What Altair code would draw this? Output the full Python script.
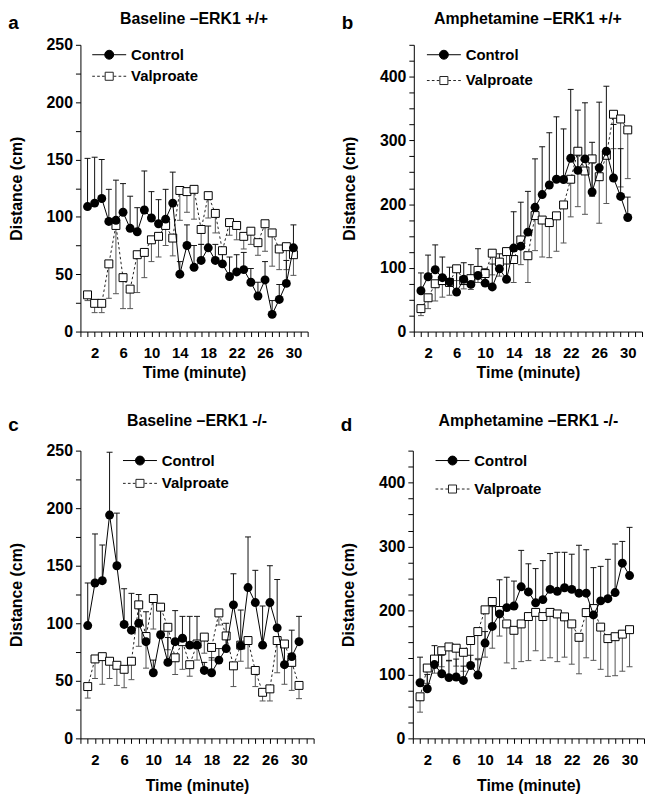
import altair as alt
import pandas as pd

FONT = "Liberation Sans"
minutes = list(range(1, 31))

# ---- Panel a: Baseline -ERK1 +/+ ----
a_ctrl = [109, 112, 116, 96, 97, 104, 90, 87, 106, 99, 94, 98, 112, 50, 75,
          56, 62, 73, 62, 59, 48, 52, 54, 43, 31, 45, 15, 28, 42, 73]
a_ctrl_hi = [151, 152, 150, 124, 132, 129, 118, 108, 140, 122, 115, 124, 139, 61, 93,
             75, 76, 92, 76, 72, 65, 67, 69, 55, 43, 61, 27, 41, 62, 93]
a_valp = [32, 24.6, 24.6, 59, 92.5, 47, 37, 67, 69, 80, 83, 92.5, 81.5, 123, 122,
          124, 89, 118.5, 103, 70.5, 95, 92.5, 83, 87.5, 77.5, 94, 86, 72, 74, 67]
a_valp_lo = [27, 16.5, 16.5, 29, 33, 20, 20, 34, 47, 61, 65, 75, 66, 97, 104,
             98, 76, 99, 86, 61, 84, 80, 72, 76, 66.5, 70, 57, 54, 54, 49]

# ---- Panel b: Amphetamine -ERK1 +/+ ----
b_ctrl = [64, 86, 97, 84.5, 78, 62, 82, 74, 88, 76, 70, 98.5, 82, 131, 134,
          156, 195, 215, 230, 239, 238.6, 272, 253, 271, 219, 257, 283, 241, 212, 179]
b_ctrl_hi = [92, 120, 136, 117, 101, 96, 108, 105, 130, 98.5, 106, 122, 106, 188, 203,
             220, 271, 290, 312, 337, 318, 380, 347.5, 359, 297, 360, 385, 325, 287, 211]
b_valp = [36, 53, 75, 80, 77, 98.5, 80, 83, 96, 91, 123, 109, 125.5, 113, 143.7,
          119, 182, 175, 171, 181.6, 198.7, 239, 283, 252, 271, 243, 276.6, 341, 333.6, 316.5]
b_valp_lo = [25, 36, 48, 54, 57, 80, 67, 66, 77, 73, 89, 87, 86, 77, 105,
             77, 127, 117, 116, 126, 139, 180, 196, 184, 212, 170, 201, 287, 227, 240]

# ---- Panel c: Baseline -ERK1 -/- ----
c_ctrl = [98, 135, 137, 194, 150, 99, 94, 100, 84, 57, 90, 66, 84, 87, 81,
          81, 59, 57, 68, 78, 116, 80.5, 131, 118, 81, 118, 96, 64, 71, 84]
c_ctrl_hi = [135, 177.6, 168, 248.6, 195.7, 130, 126, 125, 110, 68, 117, 87.6, 111, 106, 106,
             106, 66, 70, 78, 100, 143, 111.5, 175, 146, 115, 150, 138, 85, 94, 106]
c_valp = [45, 69, 71, 67, 63.5, 60, 67, 116, 88.5, 121.5, 114, 96.5, 70, 84, 64,
          82, 88, 79, 109, 89, 63, 81, 85, 59, 40, 43, 85, 82, 66, 46]
c_valp_lo = [35, 52, 47, 52, 46, 44, 51, 80, 61, 95, 93, 77, 55.5, 60, 54,
             68, 74, 68, 98.5, 75.6, 45, 67, 61, 45, 32.5, 32.5, 57, 47, 41.7, 34.5]

# ---- Panel d: Amphetamine -ERK1 -/- ----
d_ctrl = [87, 77.6, 115.4, 101, 95, 96, 90.6, 114, 99, 149, 175, 194.6, 204.5, 207, 237,
          229, 212, 217, 233, 230, 235.5, 233, 227, 227, 193, 215, 218.4, 228, 274, 254.6]
d_ctrl_hi = [127, 100, 145, 130, 122, 124, 113, 130, 123, 167, 206, 248, 252, 246, 294,
             273, 265.5, 278, 289, 291, 291, 288, 302, 295, 267, 269, 280, 304, 308, 330]
d_valp = [65, 110, 124, 137, 143, 141, 134.6, 153, 167, 201, 214, 200, 179, 169, 179,
          190.5, 197, 190.5, 197, 194.6, 190, 179, 158, 196.7, 203, 174, 156, 159, 163, 170]
d_valp_lo = [41, 86, 102, 112, 121, 113, 105, 112, 125, 127, 141, 160, 118, 109, 120,
             121.6, 137, 122, 126, 120, 127, 116, 101, 126, 122, 108, 97, 98, 105, 112]

series_names = ["Control", "Valproate"]

# legend symbols: line + marker drawn as custom symbol paths
PATH_CTRL = "M-3.8,0L3.8,0M-1,0A1,1,0,1,0,1,0A1,1,0,1,0,-1,0Z"
PATH_VALP = ("M-3.8,0L-3.2,0M-2.7,0L-2.1,0M-1.6,0L-1.0,0"
             "M1.0,0L1.6,0M2.1,0L2.7,0M3.2,0L3.8,0"
             "M-0.9,-0.9L0.9,-0.9L0.9,0.9L-0.9,0.9Z")


def make_df(ctrl, ctrl_end, valp, valp_end):
    rows = []
    for i, m in enumerate(minutes):
        rows.append(dict(t=m, series="Control", mean=ctrl[i], end=ctrl_end[i]))
    for i, m in enumerate(minutes):
        rows.append(dict(t=m, series="Valproate", mean=valp[i], end=valp_end[i]))
    return pd.DataFrame(rows)


def panel(df, title, letter, ymax, label_step, width, height, legend_x, row_pad,
          xlab_pad, xtitle_pad, title_offset):
    xscale = alt.Scale(domain=[0, 32], nice=False, zero=False)
    yscale = alt.Scale(domain=[0, ymax], nice=False)
    xaxis = alt.Axis(
        values=list(range(0, 33)),
        labelExpr="datum.value >= 2 && datum.value <= 30 && (datum.value - 2) % 4 == 0 ? datum.label : ''",
        title="Time (minute)", labelOverlap=False, labelFlush=False, grid=False,
        labelPadding=xlab_pad, titlePadding=xtitle_pad,
    )
    yaxis = alt.Axis(
        values=list(range(0, ymax + 1, 25)),
        labelExpr=f"datum.value % {label_step} == 0 ? datum.label : ''",
        title="Distance (cm)", labelOverlap=False, labelFlush=False, grid=False,
    )
    X = alt.X("t:Q", scale=xscale, axis=xaxis)
    base = alt.Chart(df)
    ctrl = base.transform_filter(alt.datum.series == "Control")
    valp = base.transform_filter(alt.datum.series == "Valproate")

    def bars(src, color):
        rule = src.mark_rule(color=color, strokeWidth=1).encode(
            x=X, y=alt.Y("mean:Q", scale=yscale, axis=yaxis), y2="end:Q")
        cap = src.mark_tick(orient="horizontal", size=6, thickness=1, color=color, opacity=1).encode(
            x=X, y=alt.Y("end:Q", scale=yscale, axis=yaxis))
        return rule, cap

    v_rule, v_cap = bars(valp, "#555555")
    c_rule, c_cap = bars(ctrl, "#111111")
    Y = alt.Y("mean:Q", scale=yscale, axis=yaxis)

    v_line = valp.mark_line(color="#222222", strokeWidth=1, strokeDash=[2.5, 2.5]).encode(x=X, y=Y)
    c_line = ctrl.mark_line(color="black", strokeWidth=1).encode(x=X, y=Y)
    v_pts = valp.mark_point(shape="square", filled=True, fill="white", stroke="black",
                            strokeWidth=1, size=64, opacity=1).encode(x=X, y=Y)
    c_pts = ctrl.mark_point(shape="circle", filled=True, color="black", size=81,
                            opacity=1).encode(x=X, y=Y)

    leg = alt.Legend(
        orient="none", legendX=legend_x, legendY=2.5, title=None,
        labelFont=FONT, labelFontSize=15, labelFontWeight="bold", labelColor="black",
        symbolSize=81, symbolStrokeWidth=1,
        labelOffset=14.5, rowPadding=row_pad, padding=0,
    )
    legend_layer = base.transform_filter("false").mark_point(
        filled=True, size=81, strokeWidth=1, opacity=1
    ).encode(
        x=X, y=Y,
        shape=alt.Shape("series:N", scale=alt.Scale(domain=series_names, range=[PATH_CTRL, PATH_VALP]), legend=leg),
        fill=alt.Fill("series:N", scale=alt.Scale(domain=series_names, range=["black", "white"]), legend=leg),
        stroke=alt.Stroke("series:N", scale=alt.Scale(domain=series_names, range=["black", "#222222"]), legend=leg),
    )

    layered = alt.layer(
        v_rule, v_cap, c_rule, c_cap, v_line, v_pts, c_line, c_pts, legend_layer
    ).properties(
        width=width, height=height,
        title=alt.Title(title, anchor="middle", frame="group", fontSize=16,
                        fontWeight="bold", font=FONT, color="black", offset=title_offset),
    )
    return alt.hconcat(layered).properties(
        title=alt.Title(letter, anchor="start", fontSize=19, fontWeight="bold",
                        font=FONT, color="black", offset=-22)
    )


pa = panel(make_df(a_ctrl, a_ctrl_hi, a_valp, a_valp_lo), "Baseline \u2013ERK1 +/+", "a",
           250, 50, 229, 289, 21.5, 5.7, 9.5, 4, 10)
pb = panel(make_df(b_ctrl, b_ctrl_hi, b_valp, b_valp_lo), "Amphetamine \u2013ERK1 +/+", "b",
           450, 100, 230, 289, 22.8, 10, 9.5, 4, 10)
pc = panel(make_df(c_ctrl, c_ctrl_hi, c_valp, c_valp_lo), "Baseline \u2013ERK1 -/-", "c",
           250, 50, 235, 290, 52.5, 7, 9, 11, 14)
pd_ = panel(make_df(d_ctrl, d_ctrl_hi, d_valp, d_valp_lo), "Amphetamine \u2013ERK1 -/-", "d",
            450, 100, 233, 290, 32.5, 12.7, 9, 11, 14)

res = dict(x="independent", y="independent", shape="independent", fill="independent",
           stroke="independent")
row1 = alt.hconcat(pa, pb, spacing=33).resolve_scale(**res).resolve_legend(
    shape="independent", fill="independent", stroke="independent")
row2 = alt.hconcat(pc, pd_, spacing=26).resolve_scale(**res).resolve_legend(
    shape="independent", fill="independent", stroke="independent")

chart = alt.vconcat(row1, row2, spacing=32).resolve_scale(**res).resolve_legend(
    shape="independent", fill="independent", stroke="independent"
).properties(padding=0).configure_view(
    stroke=None
).configure_axis(
    labelFont=FONT, labelFontSize=15, labelFontWeight="bold", labelColor="black",
    titleFont=FONT, titleFontSize=16, titleFontWeight="bold", titleColor="black",
    tickSize=5, tickColor="black", domainColor="black", tickWidth=1, domainWidth=1,
).configure_axisY(
    labelPadding=3, titlePadding=22, labelFontSize=16
)

chart.save("out.html", embed_options={"renderer": "svg", "actions": False})
